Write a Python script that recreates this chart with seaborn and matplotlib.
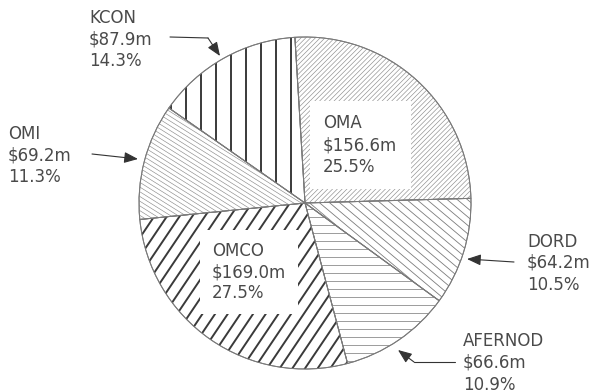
import numpy as np
import matplotlib
matplotlib.use("Agg")
import matplotlib.pyplot as plt
import seaborn as sns
from matplotlib.collections import LineCollection

# ---- data ----
names = ["OMA", "DORD", "AFERNOD", "OMCO", "OMI", "KCON"]
values_m = [156.6, 64.2, 66.6, 169.0, 69.2, 87.9]
pcts = [25.5, 10.5, 10.9, 27.5, 11.3, 14.3]

sns.set_theme(style="white")
plt.rcParams["font.family"] = ["DejaVu Sans"]

W, H = 595, 392
fig = plt.figure(figsize=(W / 100, H / 100), dpi=100)
fig.patch.set_facecolor("white")
ax = fig.add_axes([0, 0, 1, 1])

def Y(y):
    return H - y

cx, cy, r = 305, Y(203), 166
wedges, _ = ax.pie(values_m, startangle=93.5, counterclock=False,
                   center=(cx, cy), radius=r, colors=["white"] * len(values_m),
                   wedgeprops=dict(edgecolor="#7a7a7a", linewidth=0.7))

# hatch styles: (angle deg, spacing px, linewidth pt, color)
styles = {
    "OMA": (45, 3.4, 0.45, "#8c8c8c"),
    "DORD": (-40, 6.5, 0.6, "#7c7c7c"),
    "AFERNOD": (0, 8.0, 0.6, "#8c8c8c"),
    "OMCO": (56, 10.5, 1.4, "#3a3a3a"),
    "OMI": (-32, 4.0, 0.45, "#8c8c8c"),
    "KCON": (90, 15.0, 1.4, "#3a3a3a"),
}

def hatch(wedge, angle, spacing, lw, color):
    a = np.deg2rad(angle)
    d = np.array([np.cos(a), np.sin(a)])
    n = np.array([-np.sin(a), np.cos(a)])
    segs = []
    for t in np.arange(-r, r + spacing, spacing):
        p = np.array([cx, cy]) + t * n
        segs.append([p - 1.1 * r * d, p + 1.1 * r * d])
    lc = LineCollection(segs, linewidths=lw, colors=color, zorder=2)
    ax.add_collection(lc)
    lc.set_clip_path(wedge)

for w, nm in zip(wedges, names):
    hatch(w, *styles[nm])

ax.pie(values_m, startangle=93.5, counterclock=False, center=(cx, cy), radius=r,
       colors=["none"] * len(values_m),
       wedgeprops=dict(edgecolor="#7a7a7a", linewidth=0.7, zorder=3))

def label(i):
    return f"{names[i]}\n\\${values_m[i]:.1f}m\n{pcts[i]:.1f}%"

tcol = "#4a4a4a"
fs = 12
# inside labels with white boxes
ax.text(323, Y(145), label(0), ha="left", va="center", fontsize=fs, color=tcol,
        linespacing=1.25, zorder=5,
        bbox=dict(boxstyle="square,pad=0.8", facecolor="white", edgecolor="none"))
ax.text(212, Y(272), label(3), ha="left", va="center", fontsize=fs, color=tcol,
        linespacing=1.25, zorder=5,
        bbox=dict(boxstyle="square,pad=0.7", facecolor="white", edgecolor="none"))

# outside labels
ax.text(89, Y(39), label(5), ha="left", va="center", fontsize=fs, color=tcol, linespacing=1.25)
ax.text(8, Y(155), label(4), ha="left", va="center", fontsize=fs, color=tcol, linespacing=1.25)
ax.text(527, Y(263), label(1), ha="left", va="center", fontsize=fs, color=tcol, linespacing=1.25)
ax.text(463, Y(363), label(2), ha="left", va="center", fontsize=fs, color=tcol, linespacing=1.25)

acol = "#333333"
aprops = dict(arrowstyle="-|>,head_length=0.7,head_width=0.28", color=acol, lw=0.8,
              shrinkA=0, shrinkB=0)

# KCON
ax.plot([170, 208], [Y(37), Y(38)], color=acol, lw=0.8)
ax.annotate("", xy=(220, Y(56)), xytext=(208, Y(38)), arrowprops=aprops)
# OMI
ax.annotate("", xy=(138, Y(159)), xytext=(92, Y(154)), arrowprops=aprops)
# DORD
ax.annotate("", xy=(467, Y(259)), xytext=(514, Y(262)), arrowprops=aprops)
# AFERNOD
ax.plot([455, 414], [Y(362), Y(362)], color=acol, lw=0.8)
ax.annotate("", xy=(398, Y(350)), xytext=(414, Y(362)), arrowprops=aprops)

ax.set_xlim(0, W)
ax.set_ylim(0, H)
ax.set_aspect("equal")
ax.axis("off")

fig.savefig("out.png", dpi=100, facecolor="white")
